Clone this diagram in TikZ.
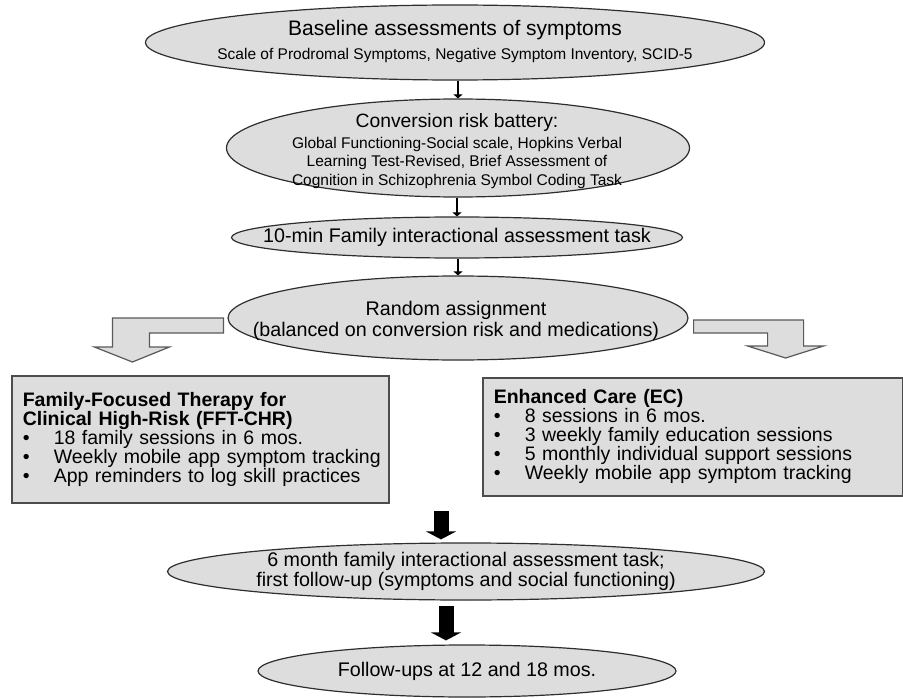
\documentclass[tikz,border=0pt]{standalone}
\usepackage{fontspec}
\setmainfont{Liberation Sans}
\usetikzlibrary{shapes.geometric,arrows.meta}
\definecolor{fillgray}{gray}{0.865}
\definecolor{linegray}{gray}{0.18}
\newcommand{\fs}[2]{\fontsize{#1}{#2}\selectfont}
\newcommand{\bul}{\makebox[31pt][l]{\textbullet}}

\begin{document}
\begin{tikzpicture}[x=1pt,y=-1pt,
  stage/.style={ellipse,draw=linegray,line width=1.2pt,fill=fillgray,inner sep=0pt},
  words/.style={align=center,inner sep=0pt,font=\fs{19.7}{20}},
  arm/.style={rectangle,draw=black!70,line width=1.6pt,fill=fillgray,inner xsep=11pt,inner ysep=0pt,align=left,anchor=north west,font=\fs{19.5}{19}},
  smallhead/.style={line width=2.6pt,-{Triangle[length=4pt,width=9pt]}},
  bigarrow/.style={line width=15pt,-{Triangle[length=8pt,width=30pt]}},
  turn/.style={draw=black!65,line width=1.2pt,fill=fillgray,line join=miter}]
\useasboundingbox (0,0) rectangle (903,698);

\node[stage,minimum width=619pt,minimum height=75pt] (base) at (455,42.5) {};
\node[words] (base-t) at (455,42)
  {{\fs{21}{22}Baseline assessments of symptoms}\\[4pt]
   {\fs{15.5}{18}Scale of Prodromal Symptoms, Negative Symptom Inventory, SCID-5}};
\node[stage,minimum width=463pt,minimum height=98pt] (risk) at (458,148) {};
\node[words,font=\fs{15.5}{18.5}] (risk-t) at (457,151)
  {{\fs{19.3}{20}Conversion risk battery:}\\[2pt]
   Global Functioning-Social scale, Hopkins Verbal\\
   Learning Test-Revised, Brief Assessment of\\
   Cognition in Schizophrenia Symbol Coding Task};
\node[stage,minimum width=451pt,minimum height=41pt] (fam) at (457,237.5) {};
\node[words] (fam-t) at (fam) {10-min Family interactional assessment task};
\node[stage,minimum width=460pt,minimum height=84pt] (rand) at (458,318) {};
\node[words,font=\fs{19.7}{21.5}] (rand-t) at (456,321)
  {Random assignment\\(balanced on conversion risk and medications)};

\node[arm,minimum height=127pt,text width=355pt] (fft) at (11,375)
  {\textbf{Family-Focused Therapy for}\\
   \textbf{Clinical High-Risk (FFT-CHR)}\\
   \bul 18 family sessions in 6 mos.\\
   \bul\mbox{Weekly mobile app symptom tracking}\\
   \bul App reminders to log skill practices};
\node[arm,minimum height=118pt,text width=398pt] (ec) at (482,377)
  {\textbf{Enhanced Care (EC)}\\
   \bul 8 sessions in 6 mos.\\
   \bul 3 weekly family education sessions\\
   \bul 5 monthly individual support sessions\\
   \bul Weekly mobile app symptom tracking};

\node[stage,minimum width=597pt,minimum height=57pt] (six) at (466,571.5) {};
\node[words] (six-t) at (466,571)
  {6 month family interactional assessment task;\\first follow-up (symptoms and social functioning)};
\node[stage,minimum width=418pt,minimum height=52pt] (later) at (467,671) {};
\node[words] (later-t) at (later) {Follow-ups at 12 and 18 mos.};

\path[smallhead]
  (base.south -| risk) edge (risk.north)
  (risk.south -| fam) edge (fam.north)
  (fam.south -| rand) edge (rand.north);

\draw[turn] (rand.west) ++(-4,0) -- ++(-111,0) -- ++(0,29) -- ++(-18,0) -- ++(38,15)
  -- ++(37,-15) -- ++(-20,0) -- ++(0,-14) -- ++(74,0) -- cycle;
\draw[turn] (rand.east) ++(5,2) -- ++(110,0) -- ++(0,26) -- ++(20,0) -- ++(-38,12)
  -- ++(-38,-12) -- ++(20,0) -- ++(0,-13) -- ++(-74,0) -- cycle;

\coordinate (merge) at (441,511);
\coordinate (next) at (446,606);
\draw[bigarrow,shorten >=3pt] (merge) -- (merge |- six.north);
\draw[bigarrow,shorten >=4pt] (next) -- (next |- later.north);
\end{tikzpicture}
\end{document}
